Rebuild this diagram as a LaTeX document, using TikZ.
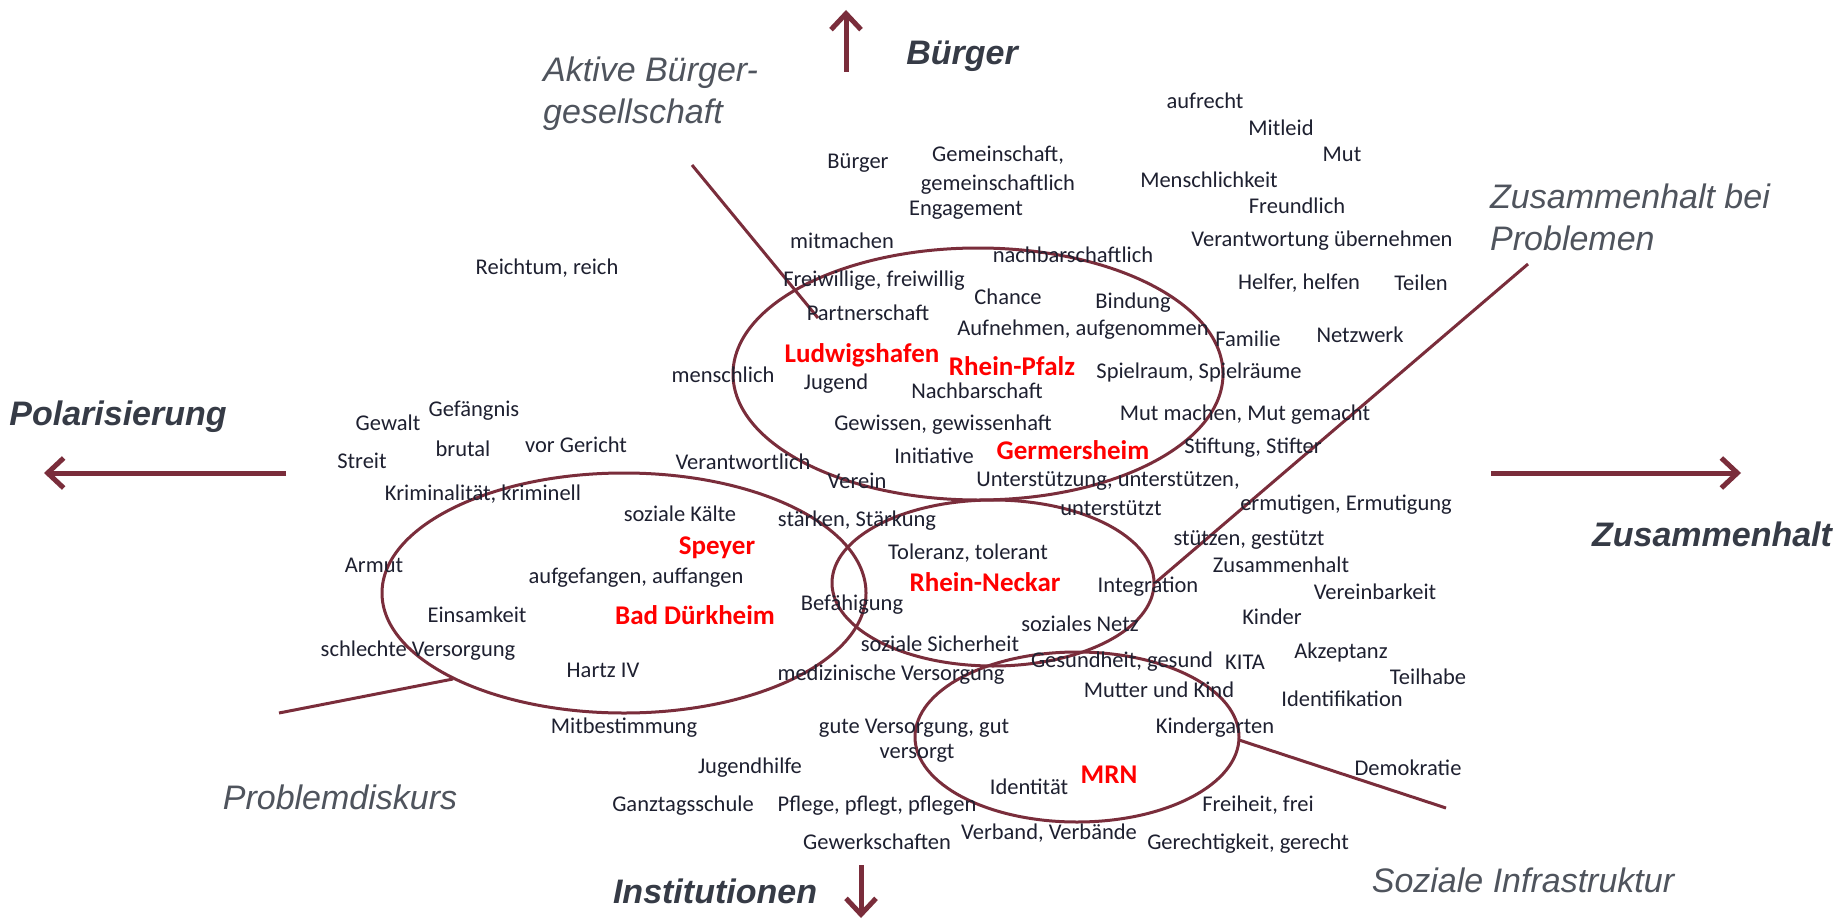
\documentclass[tikz,border=0pt]{standalone}
\usepackage{fontspec}
\usetikzlibrary{arrows.meta,shapes.geometric}
\newfontfamily\wordfont{Carlito}
\newfontfamily\headfont{Liberation Sans}
\definecolor{ink}{HTML}{1E2030}
\definecolor{maroon}{HTML}{7A2D3B}
\definecolor{themegray}{HTML}{4F545D}
\definecolor{polegray}{HTML}{363B46}
\begin{document}
\begin{tikzpicture}[x=1pt,y=-1pt,
  wd/.style={font=\wordfont\fontsize{22.5}{26}\selectfont, text=ink, inner sep=0pt},
  city/.style={font=\wordfont\bfseries\fontsize{27}{30}\selectfont, text=red, inner sep=0pt},
  pole/.style={font=\headfont\bfseries\itshape\fontsize{34}{40}\selectfont, text=polegray, inner sep=0pt},
  theme/.style={font=\headfont\itshape\fontsize{34}{42}\selectfont, text=themegray, inner sep=0pt, align=left},
  ring/.style={draw=maroon, line width=3pt, ellipse, inner sep=0pt},
  guide/.style={draw=maroon, line width=3pt},
  dirarrow/.style={draw=maroon, line width=5pt, -{Straight Barb[length=16pt,width=30pt]}}]
\useasboundingbox[fill=white] (0,0) rectangle (1843,920);

% clusters
\node[ring, minimum width=490, minimum height=252] (ring1) at (978,374) {};
\node[ring, minimum width=484, minimum height=240] (ring2) at (624,593) {};
\node[ring, minimum width=322, minimum height=166] (ring3) at (993,583) {};
\node[ring, minimum width=324, minimum height=170] (ring4) at (1077,737) {};

% dimension arrows
\coordinate (upS) at (846,72);   \coordinate (upE) at (846,10);
\coordinate (dnS) at (861,865);  \coordinate (dnE) at (861,918);
\coordinate (ltS) at (286,473);  \coordinate (ltE) at (44,473);
\coordinate (rtS) at (1491,473); \coordinate (rtE) at (1741,473);
\draw[dirarrow] (upS) -- (upE);
\draw[dirarrow] (dnS) -- (dnE);
\draw[dirarrow] (ltS) -- (ltE);
\draw[dirarrow] (rtS) -- (rtE);

% guide lines to the discourse labels
\coordinate (g1a) at (692,165);  \coordinate (g1b) at (818,318);
\coordinate (g2a) at (1528,264); \coordinate (g2b) at (1155,583);
\coordinate (g3a) at (279,713);  \coordinate (g3b) at (453,679);
\coordinate (g4a) at (1239,740); \coordinate (g4b) at (1446,808);
\draw[guide] (g1a) -- (g1b);
\draw[guide] (g2a) -- (g2b);
\draw[guide] (g3a) -- (g3b);
\draw[guide] (g4a) -- (g4b);

% poles
\node[pole] (pB) at (962,56) {Bürger};
\node[pole] (pP) at (118,417) {Polarisierung};
\node[pole] (pZ) at (1712,534) {Zusammenhalt};
\node[pole] (pI) at (715,891) {Institutionen};

% discourse labels
\node[theme, anchor=north west] (tA) at (543,57) {Aktive Bürger-\\gesellschaft};
\node[theme, anchor=north west] (tZ) at (1490,184) {Zusammenhalt bei\\Problemen};
\node[theme] (tP) at (340,797) {Problemdiskurs};
\node[theme] (tS) at (1523,880) {Soziale Infrastruktur};

% regions
\node[city] (cL) at (862,355) {Ludwigshafen};
\node[city] (cR) at (1012,366) {Rhein-Pfalz};
\node[city] (cG) at (1073,450) {Germersheim};
\node[city] (cS) at (717,548) {Speyer};
\node[city] (cN) at (985,582) {Rhein-Neckar};
\node[city] (cB) at (695,615) {Bad Dürkheim};
\node[city] (cM) at (1109,775) {MRN};

% terms
\node[wd] (w1) at (1205,101) {aufrecht};
\node[wd] (w2) at (1281,128) {Mitleid};
\node[wd] (w3) at (1342,154) {Mut};
\node[wd] (w4) at (1209,180) {Menschlichkeit};
\node[wd] (w5) at (1297,206) {Freundlich};
\node[wd] (w6) at (1322,241) {Verantwortung übernehmen};
\node[wd] (w7) at (858,163) {Bürger};
\node[wd] (w8) at (998,155) {Gemeinschaft,};
\node[wd] (w9) at (998,185) {gemeinschaftlich};
\node[wd] (w10) at (966,210) {Engagement};
\node[wd] (w11) at (842,241) {mitmachen};
\node[wd] (w12) at (1073,255) {nachbarschaftlich};
\node[wd] (w13) at (547,268) {Reichtum, reich};
\node[wd] (w14) at (874,281) {Freiwillige, freiwillig};
\node[wd] (w15) at (1008,297) {Chance};
\node[wd] (w16) at (1133,303) {Bindung};
\node[wd] (w17) at (1299,283) {Helfer, helfen};
\node[wd] (w18) at (1421,283) {Teilen};
\node[wd] (w19) at (868,313) {Partnerschaft};
\node[wd] (w20) at (1083,330) {Aufnehmen, aufgenommen};
\node[wd] (w21) at (1248,339) {Familie};
\node[wd] (w22) at (1360,335) {Netzwerk};
\node[wd] (w23) at (723,375) {menschlich};
\node[wd] (w24) at (836,384) {Jugend};
\node[wd] (w25) at (977,391) {Nachbarschaft};
\node[wd] (w26) at (1199,372) {Spielraum, Spielräume};
\node[wd] (w27) at (943,425) {Gewissen, gewissenhaft};
\node[wd] (w28) at (1245,415) {Mut machen, Mut gemacht};
\node[wd] (w29) at (934,456) {Initiative};
\node[wd] (w30) at (1253,448) {Stiftung, Stifter};
\node[wd] (w31) at (743,462) {Verantwortlich};
\node[wd] (w32) at (857,481) {Verein};
\node[wd] (w33) at (1108,481) {Unterstützung, unterstützen,};
\node[wd] (w34) at (1111,508) {unterstützt};
\node[wd] (w35) at (1346,505) {ermutigen, Ermutigung};
\node[wd] (w36) at (388,423) {Gewalt};
\node[wd] (w37) at (474,411) {Gefängnis};
\node[wd] (w38) at (362,461) {Streit};
\node[wd] (w39) at (463,449) {brutal};
\node[wd] (w40) at (576,445) {vor Gericht};
\node[wd] (w41) at (483,494) {Kriminalität, kriminell};
\node[wd] (w42) at (680,514) {soziale Kälte};
\node[wd] (w43) at (857,521) {stärken, Stärkung};
\node[wd] (w44) at (968,553) {Toleranz, tolerant};
\node[wd] (w45) at (1249,540) {stützen, gestützt};
\node[wd] (w46) at (1281,565) {Zusammenhalt};
\node[wd] (w47) at (1375,592) {Vereinbarkeit};
\node[wd] (w48) at (374,565) {Armut};
\node[wd] (w49) at (636,578) {aufgefangen, auffangen};
\node[wd] (w50) at (1148,587) {Integration};
\node[wd] (w51) at (477,615) {Einsamkeit};
\node[wd] (w52) at (852,605) {Befähigung};
\node[wd] (w53) at (1272,617) {Kinder};
\node[wd] (w54) at (1080,624) {soziales Netz};
\node[wd] (w55) at (418,651) {schlechte Versorgung};
\node[wd] (w56) at (940,644) {soziale Sicherheit};
\node[wd] (w57) at (1122,662) {Gesundheit, gesund};
\node[wd] (w58) at (1245,662) {KITA};
\node[wd] (w59) at (1341,652) {Akzeptanz};
\node[wd] (w60) at (1428,677) {Teilhabe};
\node[wd] (w61) at (603,670) {Hartz IV};
\node[wd] (w62) at (891,675) {medizinische Versorgung};
\node[wd] (w63) at (1159,690) {Mutter und Kind};
\node[wd] (w64) at (1342,699) {Identifikation};
\node[wd] (w65) at (624,728) {Mitbestimmung};
\node[wd] (w66) at (914,728) {gute Versorgung, gut};
\node[wd] (w67) at (917,753) {versorgt};
\node[wd] (w68) at (1215,728) {Kindergarten};
\node[wd] (w69) at (750,768) {Jugendhilfe};
\node[wd] (w70) at (1408,768) {Demokratie};
\node[wd] (w71) at (1029,787) {Identität};
\node[wd] (w72) at (683,806) {Ganztagsschule};
\node[wd] (w73) at (877,806) {Pflege, pflegt, pflegen};
\node[wd] (w74) at (1258,805) {Freiheit, frei};
\node[wd] (w75) at (877,842) {Gewerkschaften};
\node[wd] (w76) at (1049,833) {Verband, Verbände};
\node[wd] (w77) at (1248,844) {Gerechtigkeit, gerecht};
\end{tikzpicture}
\end{document}
